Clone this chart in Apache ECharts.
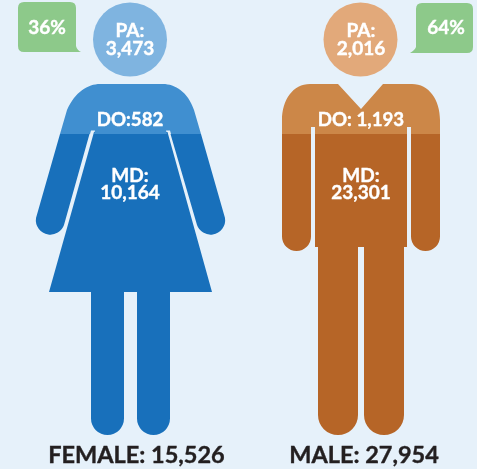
<!DOCTYPE html>
<html>
<head>
<meta charset="utf-8">
<title>Female and male figures</title>
<style>
  html, body { margin: 0; padding: 0; background: #e6f1fa; }
  #chart { width: 477px; height: 469px; }
</style>
<script src="https://cdn.jsdelivr.net/npm/echarts@6/dist/echarts.min.js"></script>
</head>
<body>
<div id="chart"></div>
<script>
// data
var genders = ['FEMALE', 'MALE'];
var totals = [15526, 27954];
var shares = [36, 64];
var paValues = [3473, 2016];
var doValues = [582, 1193];
var mdValues = [10164, 23301];
var doSeparators = [':', ': '];

// colours per figure: head, shoulders, body
var headColors = ['#7fb4e0', '#e2a97a'];
var doColors = ['#408fd0', '#cc8748'];
var mdColors = ['#1870bb', '#b66527'];

// silhouettes, drawn around the middle of each category band
var shoulderPaths = [
	'M-70,134 L-63,110 C-55,92 -42,84 -30,84 H33 C45,84 58,92 64,110 L71,134 H41 L40,130.5 H36 L37,134 H-36 L-35,130.5 H-39 L-40,134 Z',
	'M-79,134 V120 C-79,100 -68,84 -51,84 H-23 L0,109 L22,84 H51 C68,84 79,100 79,120 V134 H50 V127 H46 V134 H-46 V127 H-50 V134 Z'
];
var bodyPaths = [
	'M-36,132 L-81,292 H82 L37.5,132 Z' +
	'M-70,134 L-94,218 A14.5,14.5 0 0 0 -66,225 L-40.5,134 Z' +
	'M71,134 L95,218 A14.5,14.5 0 0 1 67,225 L40.5,134 Z' +
	'M-39,290 V418.5 A16.5,16.5 0 0 0 -6,418.5 V290 Z' +
	'M7,290 V418.5 A16.5,16.5 0 0 0 40,418.5 V290 Z',
	'M-79,134 V236.5 A14.5,14.5 0 0 0 -50,236.5 V134 Z' +
	'M50,134 V236.5 A14.5,14.5 0 0 0 79,236.5 V134 Z' +
	'M-46,134 V247 H46 V134 Z' +
	'M-43,246 V415 A20,20 0 0 0 -3,415 V246 Z' +
	'M3,246 V415 A20,20 0 0 0 43,415 V246 Z'
];
var bubblePaths = [
	'M-106,2 H-60 Q-54,2 -54,8 V46 Q-53,50 -49,52 H-106 Q-112,52 -112,46 V8 Q-112,2 -106,2 Z',
	'M61,3 H106 Q112,3 112,9 V47 Q112,53 106,53 H49 Q54,50 55,47 V9 Q55,3 61,3 Z'
];
var headOffsets = [0, -0.5];
var bubbleTextOffsets = [-83, 85];
var totalOffsets = [6.5, 3];

function fmt(n) {
	return n.toLocaleString('en-US');
}

function label(text, x, y, size, color) {
	return {
		type: 'text',
		style: {
			text: text,
			x: x,
			y: y,
			fill: color || '#fff',
			stroke: color || '#fff',
			lineWidth: 0.4,
			align: 'center',
			verticalAlign: 'middle',
			font: 'bold ' + size + 'px Lato, "Open Sans", sans-serif'
		}
	};
}

function drawFigure(params, api) {
	var i = params.dataIndex;
	var pos = api.coord([i, 0]);
	return {
		type: 'group',
		x: pos[0],
		y: pos[1],
		children: [
			{ type: 'path', shape: { pathData: bodyPaths[i] }, style: { fill: mdColors[i] } },
			{ type: 'path', shape: { pathData: shoulderPaths[i] }, style: { fill: doColors[i] } },
			{ type: 'circle', shape: { cx: headOffsets[i], cy: 39.5, r: 37 }, style: { fill: headColors[i] } },
			{ type: 'path', shape: { pathData: bubblePaths[i] }, style: { fill: '#8dc98a' } },
			label(shares[i] + '%', bubbleTextOffsets[i], 28, 19),
			label('PA:', 0, 31, 19),
			label(fmt(paValues[i]), 0, 49, 19),
			label('DO' + doSeparators[i] + fmt(doValues[i]), 0, 120, 18.7),
			label('MD:', 0, 176, 19),
			label(fmt(mdValues[i]), 0, 193, 19),
			label(genders[i] + ': ' + fmt(totals[i]), totalOffsets[i], 455.5, 23.5, '#231f20')
		]
	};
}

var chart = echarts.init(document.getElementById('chart'), null, { renderer: 'canvas' });
chart.setOption({
	animation: false,
	backgroundColor: '#e6f1fa',
	grid: { left: 14.5, top: 0, width: 462, height: 469 },
	xAxis: { type: 'category', data: genders, show: false },
	yAxis: { type: 'value', min: 0, max: 469, inverse: true, show: false },
	series: [{
		type: 'custom',
		clip: false,
		silent: true,
		renderItem: drawFigure,
		data: genders.map(function (g, i) { return [i, totals[i]]; })
	}]
});
</script>
</body>
</html>
